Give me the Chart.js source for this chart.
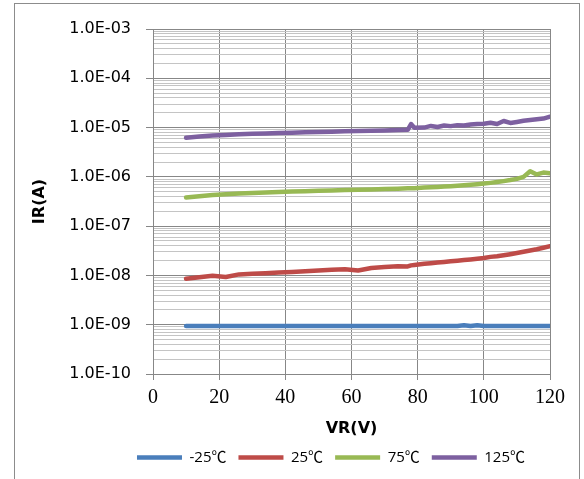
<!DOCTYPE html>
<html>
<head>
<meta charset="utf-8">
<script src="https://cdn.jsdelivr.net/npm/chart.js@4"></script>
<style>
  html, body { margin: 0; padding: 0; background: #fff; overflow: hidden; }
  #wrap { position: relative; width: 584px; height: 479px; }
  #frame { position: absolute; left: 14px; top: 3px; width: 564px; height: 500px; border: 1px solid #8c8c8c; }
  #chartCanvas { position: absolute; left: 0; top: 0; }
</style>
</head>
<body>
<div id="wrap">
  <div id="frame"></div>
  <canvas id="chartCanvas" width="584" height="479"></canvas>
</div>
<script>
// VR (V)
const VR = [10, 14, 18, 22, 26, 30, 34, 38, 42, 46, 50, 54, 58, 62, 66, 70, 74, 77, 78, 79,
            82, 84, 86, 88, 90, 92, 94, 96, 98, 100, 102, 104, 106, 108, 110, 112, 114, 116, 118, 120];

// IR (A) por temperatura
const irM25 = [9.4e-10, 9.4e-10, 9.4e-10, 9.4e-10, 9.4e-10, 9.4e-10, 9.4e-10, 9.4e-10, 9.4e-10, 9.4e-10,
               9.4e-10, 9.4e-10, 9.4e-10, 9.4e-10, 9.4e-10, 9.4e-10, 9.4e-10, 9.4e-10, 9.4e-10, 9.4e-10,
               9.4e-10, 9.4e-10, 9.4e-10, 9.4e-10, 9.4e-10, 9.4e-10, 9.8e-10, 9.4e-10, 9.8e-10, 9.4e-10,
               9.4e-10, 9.4e-10, 9.4e-10, 9.4e-10, 9.4e-10, 9.4e-10, 9.4e-10, 9.4e-10, 9.4e-10, 9.4e-10];
const ir25 = [8.6e-9, 9.2e-9, 9.8e-9, 9.3e-9, 1.05e-8, 1.08e-8, 1.11e-8, 1.15e-8, 1.18e-8, 1.22e-8,
              1.26e-8, 1.30e-8, 1.34e-8, 1.26e-8, 1.42e-8, 1.48e-8, 1.54e-8, 1.52e-8, 1.60e-8, 1.63e-8,
              1.72e-8, 1.77e-8, 1.82e-8, 1.87e-8, 1.93e-8, 1.99e-8, 2.05e-8, 2.11e-8, 2.18e-8, 2.25e-8,
              2.38e-8, 2.44e-8, 2.56e-8, 2.70e-8, 2.85e-8, 3.02e-8, 3.20e-8, 3.40e-8, 3.64e-8, 3.90e-8];
const ir75 = [3.80e-7, 4.05e-7, 4.28e-7, 4.45e-7, 4.58e-7, 4.70e-7, 4.82e-7, 4.93e-7, 5.03e-7, 5.12e-7,
              5.21e-7, 5.30e-7, 5.39e-7, 5.48e-7, 5.57e-7, 5.66e-7, 5.76e-7, 5.84e-7, 5.87e-7, 5.90e-7,
              6.05e-7, 6.15e-7, 6.25e-7, 6.36e-7, 6.48e-7, 6.62e-7, 6.76e-7, 6.92e-7, 7.10e-7, 7.30e-7,
              7.55e-7, 7.85e-7, 8.20e-7, 8.60e-7, 9.10e-7, 1.00e-6, 1.30e-6, 1.12e-6, 1.22e-6, 1.18e-6];
const ir125 = [6.2e-6, 6.6e-6, 6.9e-6, 7.1e-6, 7.3e-6, 7.45e-6, 7.6e-6, 7.75e-6, 7.85e-6, 8.0e-6,
               8.1e-6, 8.25e-6, 8.4e-6, 8.5e-6, 8.6e-6, 8.75e-6, 8.9e-6, 9.0e-6, 1.18e-5, 9.9e-6,
               1.0e-5, 1.08e-5, 1.03e-5, 1.10e-5, 1.07e-5, 1.12e-5, 1.10e-5, 1.15e-5, 1.18e-5, 1.20e-5,
               1.25e-5, 1.18e-5, 1.36e-5, 1.24e-5, 1.30e-5, 1.37e-5, 1.42e-5, 1.48e-5, 1.52e-5, 1.66e-5];

const etiquetas = ['-25℃', '25℃', '75℃', '125℃'];
const colores = ['#4a7ebb', '#be4b48', '#98b954', '#7d60a0'];

// ejes
const decadas = [-10, -9, -8, -7, -6, -5, -4, -3];
const yTickLabels = ['1.0E-10', '1.0E-09', '1.0E-08', '1.0E-07', '1.0E-06', '1.0E-05', '1.0E-04', '1.0E-03'];
const xTicks = [0, 20, 40, 60, 80, 100, 120];

// lineas de la cuadricula: 1..9 por decada
let yTicks = [];
decadas.forEach((e, i) => {
    if (i === decadas.length - 1) {
        yTicks.push(Number('1e' + e));
    } else {
        for (let m = 1; m <= 9; m++) yTicks.push(Number(m + 'e' + e));
    }
});

function esDecada(v) {
    const l = Math.log10(v);
    return Math.abs(l - Math.round(l)) < 1e-6;
}

const series = [irM25, ir25, ir75, ir125];
const datasets = series.map((s, k) => ({
    label: etiquetas[k],
    data: VR.map((v, i) => ({ x: v, y: s[i] })),
    borderColor: colores[k],
    backgroundColor: colores[k],
    borderWidth: 4.5,
    borderCapStyle: 'round',
    borderJoinStyle: 'round',
    pointRadius: 0,
    tension: 0
}));

// la leyenda de Excel no queda centrada en el lienzo
const moverLeyenda = {
    id: 'moverLeyenda',
    afterLayout(chart) {
        chart.legend.left += 56;
        chart.legend.right += 56;
    }
};

const ctx = document.getElementById('chartCanvas').getContext('2d');
const chart = new Chart(ctx, {
    type: 'line',
    data: { datasets: datasets },
    plugins: [moverLeyenda],
    options: {
        responsive: false,
        animation: false,
        layout: { padding: { left: 0, right: 34, top: 29, bottom: 4 } },
        scales: {
            x: {
                type: 'linear',
                min: 0,
                max: 120,
                afterBuildTicks: (scale) => { scale.ticks = xTicks.map(v => ({ value: v })); },
                afterFit: (scale) => { scale.height = 64; },
                ticks: {
                    autoSkip: false,
                    maxRotation: 0,
                    padding: 6,
                    color: '#000',
                    font: { family: '"Liberation Serif"', size: 20 }
                },
                grid: { color: '#878787', tickColor: '#878787', tickLength: 6, lineWidth: 1 },
                border: { color: '#878787' },
                title: {
                    display: true,
                    text: 'VR(V)',
                    color: '#000',
                    padding: { top: 4, bottom: 0 },
                    font: { family: '"DejaVu Sans"', size: 16, weight: 'bold' }
                }
            },
            y: {
                type: 'logarithmic',
                min: 1e-10,
                max: 1e-3,
                afterBuildTicks: (scale) => { scale.ticks = yTicks.map(v => ({ value: v })); },
                afterFit: (scale) => { scale.width = 153; },
                ticks: {
                    autoSkip: false,
                    padding: 15,
                    color: '#000',
                    font: { family: '"DejaVu Sans"', size: 16 },
                    callback: (value) => {
                        if (!esDecada(value)) return '';
                        const e = Math.round(Math.log10(value));
                        return yTickLabels[decadas.indexOf(e)];
                    }
                },
                grid: {
                    color: (c) => esDecada(c.tick.value) ? '#878787' : '#c4c4c4',
                    tickColor: (c) => esDecada(c.tick.value) ? '#878787' : 'rgba(0,0,0,0)',
                    tickLength: 7,
                    lineWidth: 1
                },
                border: { color: '#878787' },
                title: {
                    display: true,
                    text: 'IR(A)',
                    color: '#000',
                    padding: { top: 30, bottom: 0 },
                    font: { family: '"DejaVu Sans"', size: 16, weight: 'bold' }
                }
            }
        },
        plugins: {
            legend: {
                position: 'bottom',
                labels: {
                    usePointStyle: true,
                    pointStyle: 'line',
                    pointStyleWidth: 45,
                    padding: 12,
                    color: '#000',
                    font: { family: '"Open Sans", "Noto Sans CJK SC"', size: 15 }
                }
            },
            tooltip: { enabled: false }
        }
    }
});
</script>
</body>
</html>
